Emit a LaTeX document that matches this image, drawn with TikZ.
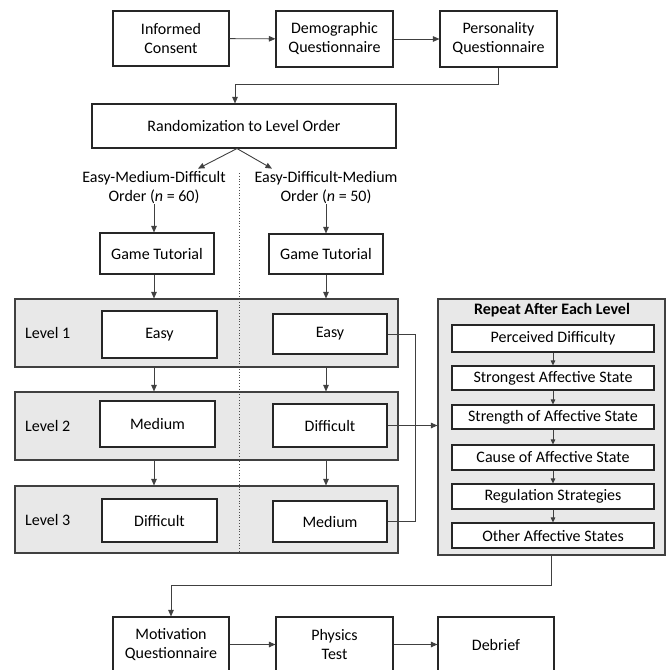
\documentclass[tikz,border=0pt]{standalone}
\usepackage{fontspec}
\setmainfont{Carlito}
\usetikzlibrary{arrows.meta, calc}

\tikzset{
  box/.style={draw=black!85, line width=1.1pt, fill=white, inner sep=0pt, align=center},
  panel/.style={draw=black!75, line width=1.1pt, fill=black!9, inner sep=0pt},
  link/.style={draw=black!75, line width=0.9pt},
  arr/.style={link, -{Triangle[length=6.5pt,width=5.5pt]}},
  tip/.style={link, -{Triangle[length=5pt,width=4.5pt]}}
}

\begin{document}
\begin{tikzpicture}[x=1pt, y=-1pt, font=\fontsize{16}{19}\selectfont]
  \useasboundingbox (0,0) rectangle (670,670);

  % top row
  \node[box, minimum width=116pt, minimum height=55pt] (t0) at (171,38.5) {Informed\\Consent};
  \node[box, minimum width=117pt, minimum height=56pt] (t1) at (334.5,39) {Demographic\\Questionnaire};
  \node[box, minimum width=117pt, minimum height=56pt] (t2) at (498.5,39) {Personality\\Questionnaire};

  % randomization
  \node[box, minimum width=304pt, minimum height=44pt] (r0) at (244,126) {Randomization to Level Order};

  % the two orders
  \node[align=center, inner sep=0pt] (o0) at (154,188) {Easy-Medium-Difficult\\Order (\textit{n} = 60)};
  \node[align=center, inner sep=0pt] (o1) at (326,188) {Easy-Difficult-Medium\\Order (\textit{n} = 50)};

  % tutorials
  \node[box, minimum width=114pt, minimum height=41pt] (g0) at (157,253.5) {Game Tutorial};
  \node[box, minimum width=114pt, minimum height=40pt] (g1) at (326,254) {Game Tutorial};

  % level panels
  \node[panel, minimum width=383pt, minimum height=68pt] (l1) at (206.5,333) {};
  \node[panel, minimum width=383pt, minimum height=68pt] (l2) at (206.5,426) {};
  \node[panel, minimum width=383pt, minimum height=67pt] (l3) at (206.5,519.5) {};
  \node[anchor=west, inner sep=0pt] (n1) at (25,333) {Level 1};
  \node[anchor=west, inner sep=0pt] (n2) at (25,426) {Level 2};
  \node[anchor=west, inner sep=0pt] (n3) at (25,520) {Level 3};

  % split line
  \coordinate (d0) at (239,173);
  \coordinate (d1) at (239,553);
  \draw[dotted, line width=0.8pt, black!70] (d0) -- (d1);

  % left order boxes
  \node[box, minimum width=115pt, minimum height=47pt] (a1) at (159.5,334.5) {Easy};
  \node[box, minimum width=115pt, minimum height=46pt] (a2) at (157.5,424) {Medium};
  \node[box, minimum width=115pt, minimum height=43pt] (a3) at (159.5,520.5) {Difficult};
  % right order boxes
  \node[box, minimum width=114pt, minimum height=40pt] (b1) at (330,334) {Easy};
  \node[box, minimum width=114pt, minimum height=43pt] (b2) at (330,425.5) {Difficult};
  \node[box, minimum width=114pt, minimum height=41pt] (b3) at (330,521.5) {Medium};

  % repeat box
  \node[panel, minimum width=227pt, minimum height=256pt] (p0) at (551.5,427) {};
  \node[inner sep=0pt, font=\fontsize{16}{19}\selectfont\bfseries] (h0) at (552,310) {Repeat After Each Level};
  \node[box, minimum width=202pt, minimum height=27pt] (p1) at (553,338.5) {Perceived Difficulty};
  \node[box, minimum width=202pt, minimum height=24pt] (p2) at (553,378) {Strongest Affective State};
  \node[box, minimum width=202pt, minimum height=24pt] (p3) at (553,417) {Strength of Affective State};
  \node[box, minimum width=202pt, minimum height=25pt] (p4) at (553,457.5) {Cause of Affective State};
  \node[box, minimum width=202pt, minimum height=25pt] (p5) at (553,496.5) {Regulation Strategies};
  \node[box, minimum width=202pt, minimum height=25pt] (p6) at (553,535.5) {Other Affective States};

  % bottom row
  \node[box, minimum width=116pt, minimum height=55pt] (e0) at (171,644.5) {Motivation\\Questionnaire};
  \node[box, minimum width=117pt, minimum height=55pt] (e1) at (334.5,644.5) {Physics\\Test};
  \node[box, minimum width=116pt, minimum height=55pt] (e2) at (496,644.5) {Debrief};

  % top arrows
  \draw[arr] (t0) -- (t1);
  \draw[arr] (t1) -- (t2);
  \draw[arr] (t2.south) -- ++(0,17) -| ([xshift=-9pt]r0.north);
  \coordinate (s0) at ([xshift=-7pt]r0.south);
  \draw[arr] (s0) -- ([xshift=44pt, yshift=3pt]o0.north);
  \draw[arr] (s0) -- ([xshift=-54pt, yshift=3pt]o1.north);

  % left column arrows
  \draw[arr] (o0.south) -- (o0.south |- g0.north);
  \draw[arr] (o0 |- g0.south) -- (o0 |- l1.north);
  \draw[arr] (o0 |- l1.south) -- (o0 |- l2.north);
  \draw[arr] (o0 |- l2.south) -- (o0 |- l3.north);
  % right column arrows
  \draw[arr] (o1.south) -- (o1.south |- g1.north);
  \draw[arr] (o1 |- g1.south) -- (o1 |- l1.north);
  \draw[arr] (o1 |- l1.south) -- (o1 |- l2.north);
  \draw[arr] (o1 |- l2.south) -- (o1 |- l3.north);

  % into the repeat box
  \draw[link] (b1.east) -- ++(28,0) |- (b3.east);
  \draw[arr] (b2.east) -- (b2.east -| p0.west);

  % repeat steps
  \draw[tip] (p1) -- (p2);
  \draw[tip] (p2) -- (p3);
  \draw[tip] (p3) -- (p4);
  \draw[tip] (p4) -- (p5);
  \draw[tip] (p5) -- (p6);

  % bottom arrows
  \draw[arr] (p0.south) -- ++(0,30) -| (e0.north);
  \draw[arr] (e0) -- (e1);
  \draw[arr] (e1) -- (e2);
\end{tikzpicture}
\end{document}
